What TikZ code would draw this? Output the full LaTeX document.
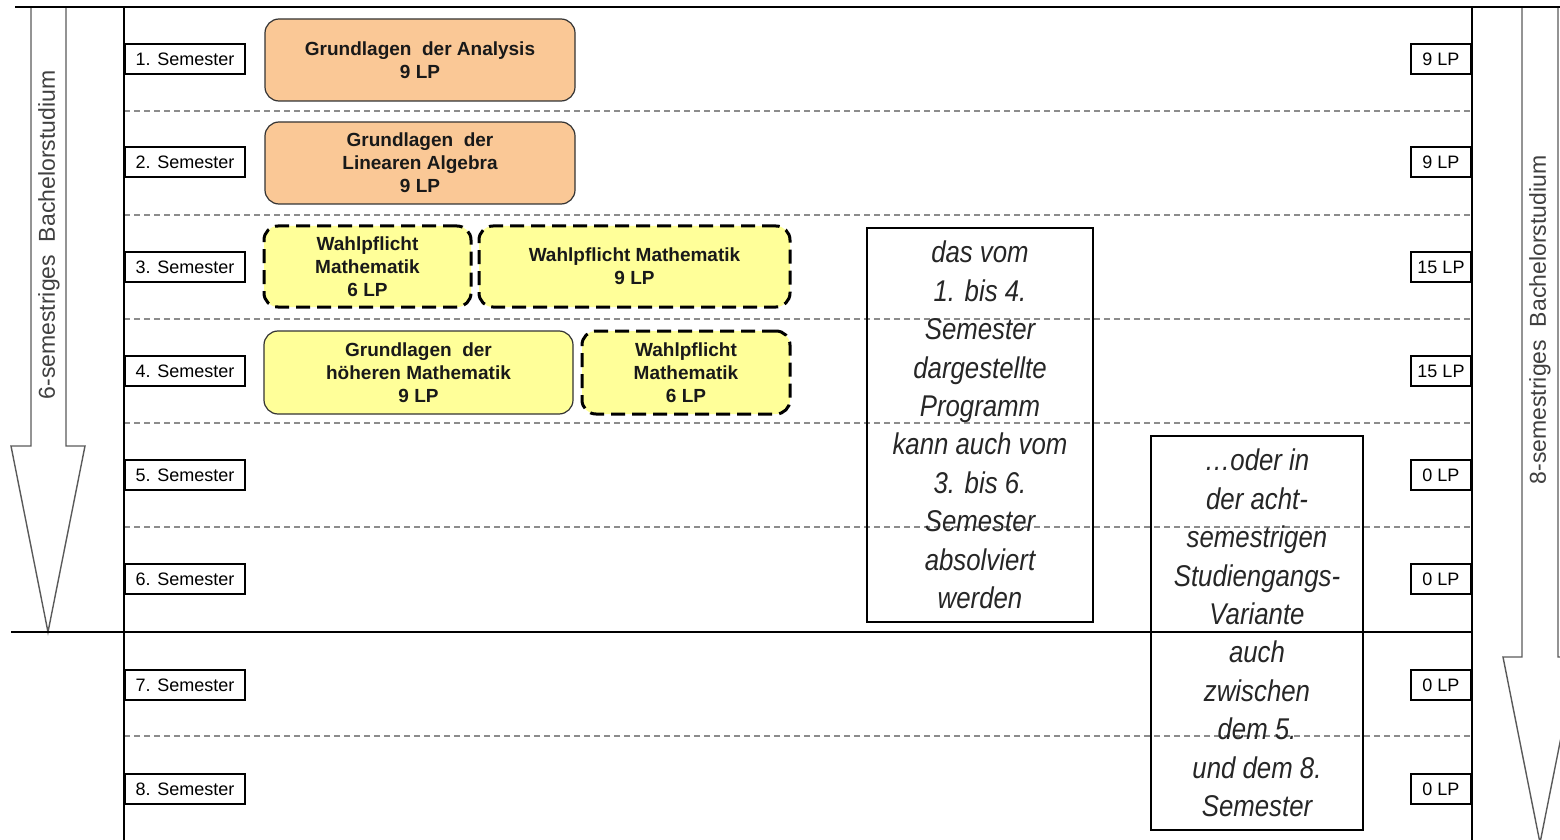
\documentclass[tikz,border=0pt]{standalone}
\usepackage{fontspec}
\setmainfont{Liberation Sans}
\newfontfamily\narrowit{Liberation Sans}[FakeStretch=0.86]
\definecolor{orangefill}{RGB}{250,200,150}
\definecolor{yellowfill}{RGB}{255,255,153}
\definecolor{gridgray}{RGB}{140,140,140}
\definecolor{arrowgray}{RGB}{90,90,90}
\begin{document}
\begin{tikzpicture}[x=0.5pt,y=-0.5pt,
  sembox/.style={draw, line width=0.75pt, fill=white, inner sep=0pt, minimum width=60pt, minimum height=15pt, font=\fontsize{9}{11}\selectfont},
  lpbox/.style={draw, line width=0.75pt, fill=white, inner sep=0pt, minimum width=30pt, minimum height=15pt, font=\fontsize{9}{11}\selectfont},
  modbase/.style={rounded corners=7pt, align=center, inner sep=0pt, font=\fontsize{9.5}{11.5}\selectfont\bfseries, text=black!90},
  orangemod/.style={modbase, draw=black!80, line width=0.6pt, fill=orangefill},
  yellowmod/.style={modbase, draw=black!80, line width=0.6pt, fill=yellowfill},
  wpmod/.style={modbase, draw=black, line width=1.5pt, dash pattern=on 7pt off 3.5pt, fill=yellowfill},
  notebox/.style={draw, line width=0.6pt, align=center, inner sep=0pt, font=\narrowit\itshape\fontsize{15}{19.2}\selectfont, text=black!85},
  rowline/.style={draw=gridgray, line width=0.6pt, dash pattern=on 3pt off 2pt},
  frameline/.style={draw=black, line width=0.7pt},
  bigarrow/.style={draw=arrowgray, line width=0.7pt, fill=white},
  arrowlabel/.style={rotate=90, font=\fontsize{11.5}{13}\selectfont, text=black!75},
]
\useasboundingbox (0,0) rectangle (1560,840);
% row separators
\foreach \y in {111,215,319,423,527,736}
  \draw[rowline] (124,\y) -- (1472,\y);
% big arrows
\draw[bigarrow] (31,7) -- (31,446) -- (11,446) -- (48,632) -- (85,446) -- (66,446) -- (66,7);
\draw[bigarrow] (1522,7) -- (1522,657) -- (1503,657) -- (1540,843) -- (1577,657) -- (1558,657) -- (1558,7);
% frame
\draw[frameline] (15,7) -- (1560,7);
\draw[frameline] (124,7) -- (124,840);
\draw[frameline] (1472,7) -- (1472,840);
\draw[frameline] (11,632) -- (1472,632);
% arrow labels
\node[arrowlabel] (lab6) at (49,235) {6-semestriges\ \ Bachelorstudium};
\node[arrowlabel] (lab8) at (1540,320) {8-semestriges\ \ Bachelorstudium};
% semester and LP boxes
\foreach \i/\y/\lp in {1/59/9,2/162/9,3/267/15,4/371/15,5/475/0,6/579/0,7/685/0,8/789/0}{
  \node[sembox] (sem\i) at (185,\y) {\i. Semester};
  \node[lpbox] (lp\i) at (1441,\y) {\lp\ LP};
}
% modules
\node[orangemod, minimum width=155pt, minimum height=41pt] (ana) at (420,60) {Grundlagen\ \ der Analysis\\9 LP};
\node[orangemod, minimum width=155pt, minimum height=41pt] (linalg) at (420,163) {Grundlagen\ \ der\\Linearen Algebra\\9 LP};
\node[wpmod, minimum width=103.5pt, minimum height=40.5pt] (wpa) at (367.5,266.5) {Wahlpflicht\\Mathematik\\6 LP};
\node[wpmod, minimum width=155.5pt, minimum height=40.5pt] (wpb) at (634.5,266.5) {Wahlpflicht Mathematik\\9 LP};
\node[yellowmod, minimum width=154.5pt, minimum height=41.5pt] (hoeh) at (418.5,372.5) {Grundlagen\ \ der\\höheren Mathematik\\9 LP};
\node[wpmod, minimum width=104pt, minimum height=41.5pt] (wpc) at (686,372.5) {Wahlpflicht\\Mathematik\\6 LP};
% notes
\node[notebox, minimum width=113pt, minimum height=197pt] (note1) at (980,425) {das vom\\1. bis 4.\\Semester\\dargestellte\\Programm\\kann auch vom\\3. bis 6.\\Semester\\absolviert\\werden};
\node[notebox, minimum width=106pt, minimum height=197pt] (note2) at (1257,633) {…oder in\\der acht-\\semestrigen\\Studiengangs-\\Variante\\auch\\zwischen\\dem 5.\\und dem 8.\\Semester};
\end{tikzpicture}
\end{document}
